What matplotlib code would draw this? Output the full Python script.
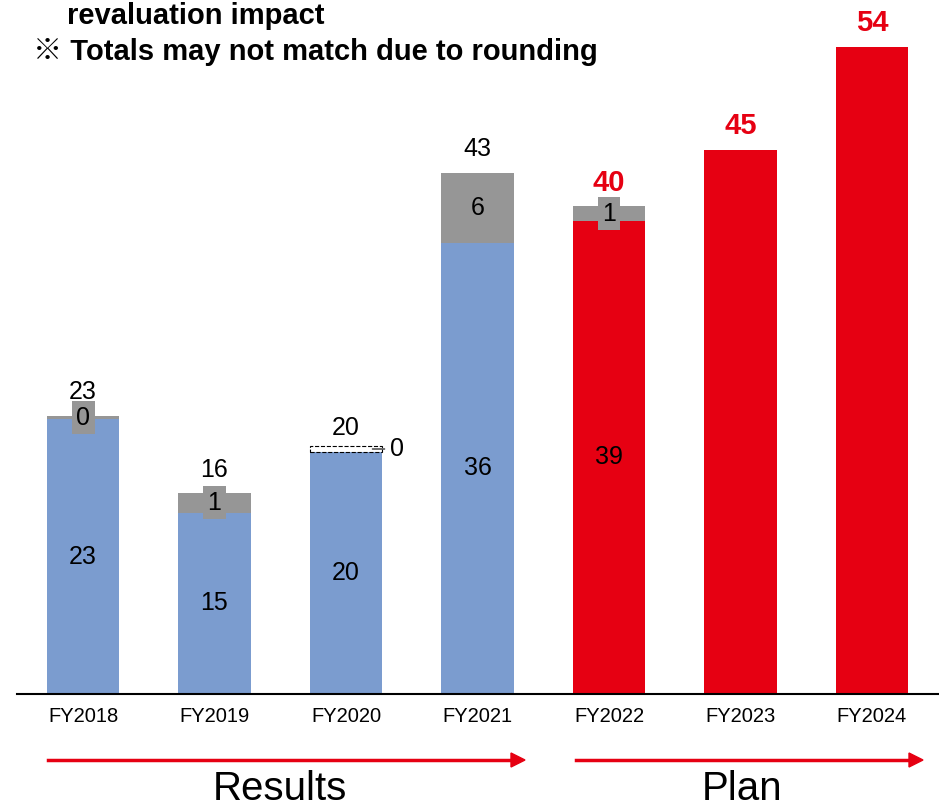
import matplotlib.pyplot as plt

plt.rcParams['font.family'] = ['Liberation Sans', 'Noto Sans CJK JP', 'DejaVu Sans']

# datos
years = ['FY2018', 'FY2019', 'FY2020', 'FY2021', 'FY2022', 'FY2023', 'FY2024']
base = [22.7, 15.0, 20.0, 37.3, 39.1, 45.0, 53.5]
impact = [0.3, 1.6, 0.0, 5.8, 1.2, 0.0, 0.0]
base_labels = ['23', '15', '20', '36', '39', '', '']
impact_labels = ['0', '1', '0', '6', '1', '', '']
total_labels = ['23', '16', '20', '43', '40', '45', '54']
n_results = 4

BLUE = '#7B9CCF'
RED = '#E60012'
GRAY = '#969696'

fig = plt.figure(figsize=(9.39, 8.07), dpi=100)
W, H = 939, 807
ax = fig.add_axes([17 / W, 1 - 694 / H, 1 - 17 / W, 694 / H])

x = list(range(len(years)))
colors = [BLUE if i < n_results else RED for i in x]
width = 0.55

ax.bar(x, base, width=width, color=colors, edgecolor='none')
ax.bar(x, impact, width=width, bottom=base, color=GRAY, edgecolor='none')

# FY2020: impacto nulo, caja discontinua
ax.bar(2, 0.5, width=width, bottom=base[2], facecolor='none',
       edgecolor='black', linestyle='--', linewidth=0.8)

for i in x:
    top = base[i] + impact[i]
    if base_labels[i]:
        ax.text(i, base[i] / 2, base_labels[i], ha='center', va='center', fontsize=18)
    # etiquetas del impacto
    if i in (0, 1, 4):
        ax.text(i, base[i] + impact[i] / 2, impact_labels[i], ha='center', va='center',
                fontsize=18,
                bbox=dict(boxstyle='square,pad=0.18', fc=GRAY, ec='none'))
    elif i == 3:
        ax.text(i, base[i] + impact[i] / 2, impact_labels[i], ha='center', va='center', fontsize=18)
    # totales
    if i < n_results:
        ax.annotate(total_labels[i], (i, top), xytext=(0, 17), textcoords='offset points',
                    ha='center', va='center', fontsize=18)
    else:
        ax.annotate(total_labels[i], (i, top), xytext=(0, 17), textcoords='offset points',
                    ha='center', va='center', fontsize=21, fontweight='bold', color=RED)

ax.annotate(impact_labels[2], (2.2, base[2] + 0.25), xytext=(18, 0), textcoords='offset points',
            ha='center', va='center', fontsize=18,
            arrowprops=dict(arrowstyle='-', color='black', lw=0.8, shrinkA=2, shrinkB=0))

ax.set_xlim(-0.502, 6.51)
ax.set_ylim(0, 57.36)
ax.set_xticks(x, years, fontsize=14.5)
ax.tick_params(axis='x', length=0, pad=9)
ax.set_yticks([])
for s in ['top', 'right', 'left']:
    ax.spines[s].set_visible(False)
ax.spines['bottom'].set_linewidth(1.5)
ax.patch.set_alpha(0)

# encabezado
fig.text(67 / W, 1 - 16 / H, 'revaluation impact', ha='left', va='center',
         fontsize=21, fontweight='bold')
fig.text(33 / W, 1 - 52 / H, '※ Totals may not match due to rounding', ha='left', va='center',
         fontsize=21, fontweight='bold')

# flechas Results / Plan
for x0, x1 in [(48, 525), (576, 923)]:
    fig.add_artist(plt.Line2D([x0 / W, (x1 - 12) / W], [1 - 760 / H] * 2,
                              color=RED, lw=2.5))
    fig.add_artist(plt.Polygon([[(x1 - 14) / W, 1 - 753 / H], [x1 / W, 1 - 760 / H],
                                [(x1 - 14) / W, 1 - 767 / H]], closed=True,
                               color=RED, transform=fig.transFigure))

fig.text(280 / W, 1 - 800 / H, 'Results', ha='center', va='baseline', fontsize=29)
fig.text(742 / W, 1 - 800 / H, 'Plan', ha='center', va='baseline', fontsize=29)

fig.savefig('out.png', dpi=100)
